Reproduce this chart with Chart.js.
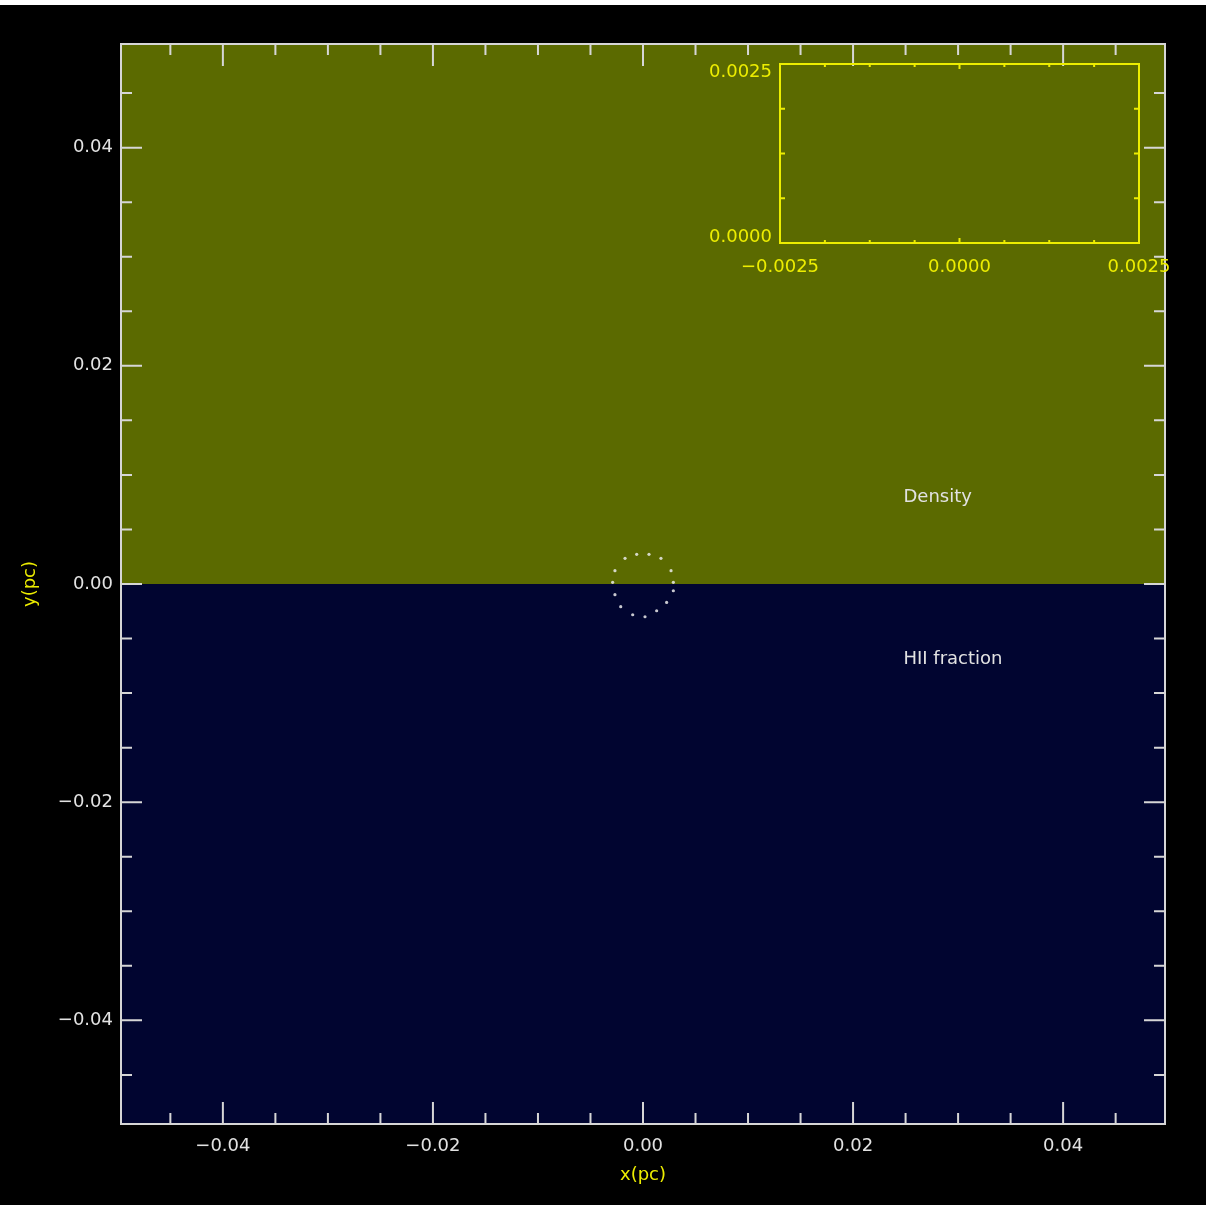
<!DOCTYPE html>
<html><head><meta charset="utf-8">
<script src="https://cdn.jsdelivr.net/npm/chart.js@4.4.1/dist/chart.umd.min.js"></script>
<style>
html,body{margin:0;padding:0;background:#000;}
#wrap{position:relative;width:1206px;height:1205px;overflow:hidden;}
canvas{position:absolute;left:0;top:0;}
</style></head><body>
<div id="wrap"><canvas id="main" width="1206" height="1205"></canvas><canvas id="inset" width="1206" height="1205"></canvas></div>
<script>
// ---- data ----
const xRange = [-0.0497, 0.0497];
const yRange = [-0.0495, 0.0495];
const xMajorTicks = [-0.04, -0.02, 0, 0.02, 0.04];
const xMinorTicks = [-0.045, -0.035, -0.03, -0.025, -0.015, -0.01, -0.005, 0.005, 0.01, 0.015, 0.025, 0.03, 0.035, 0.045];
const yMajorTicks = [-0.04, -0.02, 0, 0.02, 0.04];
const yMinorTicks = [-0.045, -0.035, -0.03, -0.025, -0.015, -0.01, -0.005, 0.005, 0.01, 0.015, 0.025, 0.03, 0.035, 0.045];
const regionLabels = ['Density', 'HII fraction'];
const ringX = [-0.00171, -0.0006, 0.00057, 0.00171, 0.00267, 0.00289, 0.00289, 0.00225, 0.0013, 0.00019, -0.00098, -0.00212, -0.00267, -0.00289, -0.00267];
const ringY = [0.00235, 0.00272, 0.00272, 0.00235, 0.00122, 0.00015, -0.00062, -0.00169, -0.00245, -0.003, -0.00282, -0.00208, -0.00098, 0.00015, 0.00122];
const insetXRange = [-0.0025, 0.0025];
const insetYRange = [0, 0.0025];
const insetXTicks = [-0.0025, 0, 0.0025];
const insetYTicks = [0, 0.0025];
const insetXMinor = [-0.001875, -0.00125, -0.000625, 0.000625, 0.00125, 0.001875];
const insetYMinor = [0.000625, 0.00125, 0.001875];

// ---- styling ----
Chart.defaults.font.family = "'DejaVu Sans', sans-serif";
Chart.defaults.font.size = 18;
const OLIVE = '#5b6a00', NAVY = '#010530', AXIS = '#d6d6d6', TXT = '#e2e2e2', YEL = '#eded00';
const fmt = d => v => (v < 0 ? '\u2212' : '') + Math.abs(v).toFixed(d);

const mainPlugin = {
  id: 'mainDeco',
  beforeDraw(chart) {
    const {ctx, chartArea: a, scales: {y}} = chart;
    ctx.save();
    ctx.fillStyle = '#000'; ctx.fillRect(0, 0, chart.width, chart.height);
    ctx.fillStyle = '#fff'; ctx.fillRect(0, 0, chart.width, 5);
    const y0 = y.getPixelForValue(0);
    ctx.fillStyle = OLIVE; ctx.fillRect(a.left, a.top, a.right - a.left, y0 - a.top);
    ctx.fillStyle = NAVY; ctx.fillRect(a.left, y0, a.right - a.left, a.bottom - y0);
    ctx.restore();
  },
  afterDraw(chart) {
    const {ctx, chartArea: a, scales: {x, y}} = chart;
    ctx.save();
    ctx.strokeStyle = AXIS; ctx.lineWidth = 2;
    ctx.beginPath();
    const tick = (list, len) => {
      list.forEach(v => { const px = x.getPixelForValue(v);
        ctx.moveTo(px, a.bottom); ctx.lineTo(px, a.bottom - len);
        ctx.moveTo(px, a.top); ctx.lineTo(px, a.top + len); });
    };
    const tickY = (list, len) => {
      list.forEach(v => { const py = y.getPixelForValue(v);
        ctx.moveTo(a.left, py); ctx.lineTo(a.left + len, py);
        ctx.moveTo(a.right, py); ctx.lineTo(a.right - len, py); });
    };
    tick(xMajorTicks, 22); tick(xMinorTicks, 11);
    tickY(yMajorTicks, 21); tickY(yMinorTicks, 11);
    ctx.stroke();
    ctx.strokeRect(a.left, a.top, a.right - a.left, a.bottom - a.top);
    // region labels
    const pos = chart.options.plugins.mainDeco.labelPos;
    ctx.fillStyle = TXT; ctx.font = "18px 'DejaVu Sans'"; ctx.textAlign = 'left'; ctx.textBaseline = 'middle';
    regionLabels.forEach((t, i) => ctx.fillText(t, x.getPixelForValue(pos[i][0]), y.getPixelForValue(pos[i][1])));
    ctx.restore();
  }
};

new Chart(document.getElementById('main'), {
  type: 'scatter',
  data: { datasets: [{
    data: ringX.map((v, i) => ({x: v, y: ringY[i]})),
    pointRadius: 1.6, pointBorderWidth: 0,
    pointBackgroundColor: 'rgba(235,235,235,0.85)', showLine: false
  }]},
  options: {
    responsive: false, animation: false, devicePixelRatio: 1,
    layout: { padding: { left: 0, top: 44, right: 41, bottom: 0 } },
    plugins: { legend: { display: false }, tooltip: { enabled: false },
      mainDeco: { labelPos: [[0.0248, 0.0079], [0.0248, -0.00686]] } },
    scales: {
      x: {
        type: 'linear', min: xRange[0], max: xRange[1],
        afterBuildTicks: s => { s.ticks = xMajorTicks.map(v => ({value: v})); },
        afterFit: s => { s.height = 81; },
        grid: { display: false, drawTicks: false, tickLength: 0 },
        border: { display: false },
        ticks: { color: TXT, padding: 12, maxRotation: 0, autoSkip: false, callback: fmt(2) },
        title: { display: true, text: 'x(pc)', color: YEL, font: { size: 18 }, padding: { top: 0, bottom: 19 } }
      },
      y: {
        type: 'linear', min: yRange[0], max: yRange[1],
        afterBuildTicks: s => { s.ticks = yMajorTicks.map(v => ({value: v})); },
        afterFit: s => { s.width = 121; },
        grid: { display: false, drawTicks: false, tickLength: 0 },
        border: { display: false },
        ticks: { color: TXT, padding: 8, autoSkip: false, callback: fmt(2) },
        title: { display: true, text: 'y(pc)', color: YEL, font: { size: 18 }, padding: { top: 20, bottom: 0 } }
      }
    }
  },
  plugins: [mainPlugin]
});

const insetPlugin = {
  id: 'insetDeco',
  afterDraw(chart) {
    const {ctx, chartArea: a, scales: {x, y}} = chart;
    ctx.save();
    ctx.strokeStyle = YEL; ctx.lineWidth = 2;
    ctx.beginPath();
    insetXMinor.forEach(v => { const px = x.getPixelForValue(v);
      ctx.moveTo(px, a.bottom); ctx.lineTo(px, a.bottom - 3);
      ctx.moveTo(px, a.top); ctx.lineTo(px, a.top + 3); });
    const c = x.getPixelForValue(0);
    ctx.moveTo(c, a.bottom); ctx.lineTo(c, a.bottom - 5);
    ctx.moveTo(c, a.top); ctx.lineTo(c, a.top + 5);
    insetYMinor.forEach(v => { const py = y.getPixelForValue(v);
      ctx.moveTo(a.left, py); ctx.lineTo(a.left + 5, py);
      ctx.moveTo(a.right, py); ctx.lineTo(a.right - 5, py); });
    ctx.stroke();
    ctx.strokeRect(a.left, a.top, a.right - a.left, a.bottom - a.top);
    ctx.fillStyle = YEL; ctx.font = "18px 'DejaVu Sans'"; ctx.textAlign = 'right'; ctx.textBaseline = 'middle';
    const f = fmt(4);
    ctx.fillText(f(insetYTicks[1]), a.left - 8, y.getPixelForValue(insetYTicks[1]) + 8);
    ctx.fillText(f(insetYTicks[0]), a.left - 8, y.getPixelForValue(insetYTicks[0]) - 6);
    ctx.restore();
  }
};

new Chart(document.getElementById('inset'), {
  type: 'scatter',
  data: { datasets: [{ data: [] }] },
  options: {
    responsive: false, animation: false, devicePixelRatio: 1,
    layout: { padding: { left: 780, top: 64, right: 67, bottom: 922 } },
    plugins: { legend: { display: false }, tooltip: { enabled: false } },
    scales: {
      x: {
        type: 'linear', min: insetXRange[0], max: insetXRange[1],
        afterBuildTicks: s => { s.ticks = insetXTicks.map(v => ({value: v})); },
        afterFit: s => { s.height = 40; },
        grid: { display: false, drawTicks: false, tickLength: 0 },
        border: { display: false },
        ticks: { color: YEL, padding: 14, maxRotation: 0, autoSkip: false, callback: fmt(4) }
      },
      y: {
        type: 'linear', min: insetYRange[0], max: insetYRange[1],
        afterFit: s => { s.width = 0; },
        grid: { display: false, drawTicks: false, tickLength: 0 },
        border: { display: false },
        ticks: { display: false }
      }
    }
  },
  plugins: [insetPlugin]
});
</script>
</body></html>
